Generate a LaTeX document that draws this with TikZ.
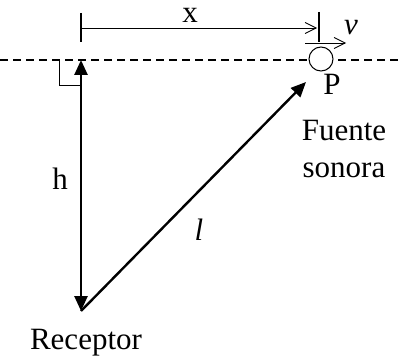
\documentclass[tikz,border=0pt]{standalone}
\usepackage{fontspec}
\setmainfont{Liberation Serif}
\usetikzlibrary{arrows.meta}
\begin{document}
\begin{tikzpicture}[x=1pt,y=-1pt,
  lbl/.style={font=\fontsize{31}{37}\selectfont, inner sep=0pt, anchor=base},
  thickarrow/.style={line width=2.4pt, -{Triangle[length=15pt,width=13pt]}},
  thinarrow/.style={line width=0.8pt, -{Straight Barb[length=11pt,width=11pt,line width=0.8pt]}}]
\useasboundingbox (0,0) rectangle (403,358);
% dashed line
\draw[line width=1.6pt, dash pattern=on 8pt off 5pt] (0,60) -- (403,60);
% named points
\coordinate (top) at (81,60);
\coordinate (rec) at (81,311);
\coordinate (src) at (306,82);
\node[circle, draw, line width=1pt, minimum size=24pt, inner sep=0pt, fill=white] (P) at (321,59) {};
% tick marks
\coordinate (t1a) at (81,13); \coordinate (t1b) at (81,42);
\coordinate (t2a) at (319,12); \coordinate (t2b) at (319,42);
\draw[line width=1.8pt] (t1a) -- (t1b);
\draw[line width=1.8pt] (t2a) -- (t2b);
% x arrow
\coordinate (xs) at (82,28); \coordinate (xe) at (317,28);
\draw[thinarrow] (xs) -- (xe);
\node[lbl] (xl) at (190,23) {x};
% v arrow
\coordinate (vs) at (305,43); \coordinate (ve) at (346,43);
\draw[thinarrow] (vs) -- (ve);
\node[lbl] (vl) at (351,35) {\itshape v};
% right angle marker
\draw[line width=1pt] (59,60) -- (59,86) -- (81,86);
% h double arrow
\draw[line width=2.6pt, {Triangle[length=15pt,width=13pt]}-{Triangle[length=15pt,width=13pt]}] (top) -- (rec);
% l arrow
\draw[thickarrow] (rec) -- (src);
% labels
\node[lbl] (Pl) at (332,95) {P};
\node[lbl] (f1) at (344,140) {Fuente};
\node[lbl] (f2) at (344,177) {sonora};
\node[lbl] (hl) at (60,189) {h};
\node[lbl] (ll) at (199,240) {\itshape l};
\node[lbl] (rl) at (86,349) {Receptor};
\end{tikzpicture}
\end{document}
